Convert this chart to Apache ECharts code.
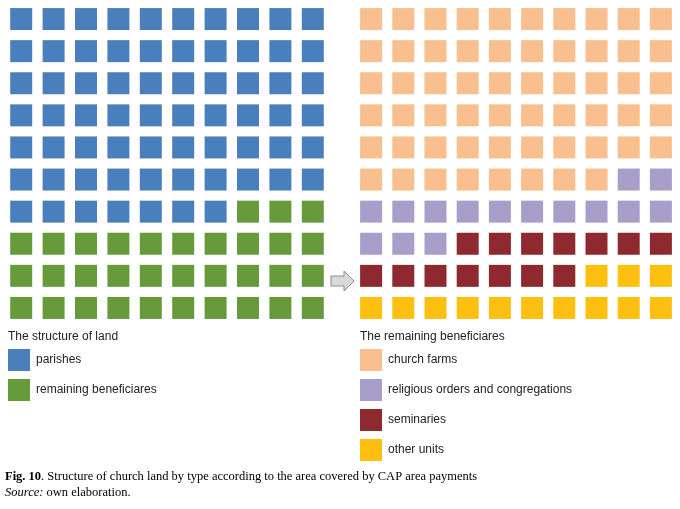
<!DOCTYPE html>
<html>
<head>
<meta charset="utf-8">
<script src="https://cdn.jsdelivr.net/npm/echarts@6/dist/echarts.min.js"></script>
<style>html,body{margin:0;padding:0;background:#fff}#container{width:680px;height:509px}</style>
</head>
<body>
<div id="container"></div>
<script>
var leftNames = ['parishes', 'remaining beneficiares'];
var leftCounts = [67, 33];
var leftColors = ['#4a7fbd', '#679a3b'];

var rightNames = ['church farms', 'religious orders and congregations', 'seminaries', 'other units'];
var rightCounts = [58, 15, 14, 13];
var rightColors = ['#fabf8f', '#a79fc9', '#8e2930', '#fdc010'];

var dom = document.getElementById('container');
var myChart = echarts.init(dom, null, { renderer: 'canvas' });

// fill a 10x10 waffle row by row from the top
function waffle(counts) {
    var out = [], k = 0;
    counts.forEach(function (c) {
        var pts = [];
        for (var i = 0; i < c; i++, k++) pts.push([k % 10, Math.floor(k / 10)]);
        out.push(pts);
    });
    return out;
}

var axis = { min: -0.5, max: 9.5, show: false };
var series = [];
waffle(leftCounts).forEach(function (pts, i) {
    series.push({ type: 'scatter', name: leftNames[i], xAxisIndex: 0, yAxisIndex: 0, symbol: 'rect',
        symbolSize: 22, itemStyle: { color: leftColors[i], opacity: 1 }, data: pts, silent: true });
});
waffle(rightCounts).forEach(function (pts, i) {
    series.push({ type: 'scatter', name: rightNames[i], xAxisIndex: 1, yAxisIndex: 1, symbol: 'rect',
        symbolSize: 22, itemStyle: { color: rightColors[i], opacity: 1 }, data: pts, silent: true });
});

var font = 'Liberation Sans, Arial, sans-serif';
var serifRich = {
    b: { fontWeight: 'bold', fontFamily: 'Liberation Serif', fontSize: 12.5, color: '#222' },
    i: { fontStyle: 'italic', fontFamily: 'Liberation Serif', fontSize: 12.5, color: '#222' },
    n: { fontFamily: 'Liberation Serif', fontSize: 12.5, color: '#222' }
};
var graphic = [
    { type: 'polygon', shape: { points: [[331, 276], [344, 276], [344, 271], [354, 281], [344, 291], [344, 286], [331, 286]] },
      style: { fill: '#d9d9d9', stroke: '#8c8c8c', lineWidth: 1 } },
    { type: 'text', left: 8, top: 331, style: { text: 'The structure of land', font: '12px ' + font, fill: '#222' } },
    { type: 'text', left: 360, top: 331, style: { text: 'The remaining beneficiares', font: '12px ' + font, fill: '#222' } },
    { type: 'text', left: 5, top: 470, style: { rich: serifRich,
        text: '{b|Fig. 10}{n|. Structure of church land by type according to the area covered by CAP area payments}' } },
    { type: 'text', left: 5, top: 486, style: { rich: serifRich, text: '{i|Source:}{n| own elaboration.}' } }
];
leftNames.forEach(function (n, i) {
    graphic.push({ type: 'rect', shape: { x: 8, y: 349 + i * 30, width: 22, height: 22 }, style: { fill: leftColors[i] } });
    graphic.push({ type: 'text', left: 36, top: 354 + i * 30, style: { text: n, font: '12px ' + font, fill: '#222' } });
});
rightNames.forEach(function (n, i) {
    graphic.push({ type: 'rect', shape: { x: 360, y: 349 + i * 30, width: 22, height: 22 }, style: { fill: rightColors[i] } });
    graphic.push({ type: 'text', left: 388, top: 354 + i * 30, style: { text: n, font: '12px ' + font, fill: '#222' } });
});

var option = {
    animation: false,
    grid: [
        { left: 5, top: 3, width: 324, height: 321 },
        { left: 355, top: 3, width: 322, height: 321 }
    ],
    xAxis: [Object.assign({ type: 'value', gridIndex: 0 }, axis), Object.assign({ type: 'value', gridIndex: 1 }, axis)],
    yAxis: [Object.assign({ type: 'value', gridIndex: 0, inverse: true }, axis), Object.assign({ type: 'value', gridIndex: 1, inverse: true }, axis)],
    series: series,
    graphic: graphic
};

myChart.setOption(option);
window.addEventListener('resize', myChart.resize);
</script>
</body>
</html>
